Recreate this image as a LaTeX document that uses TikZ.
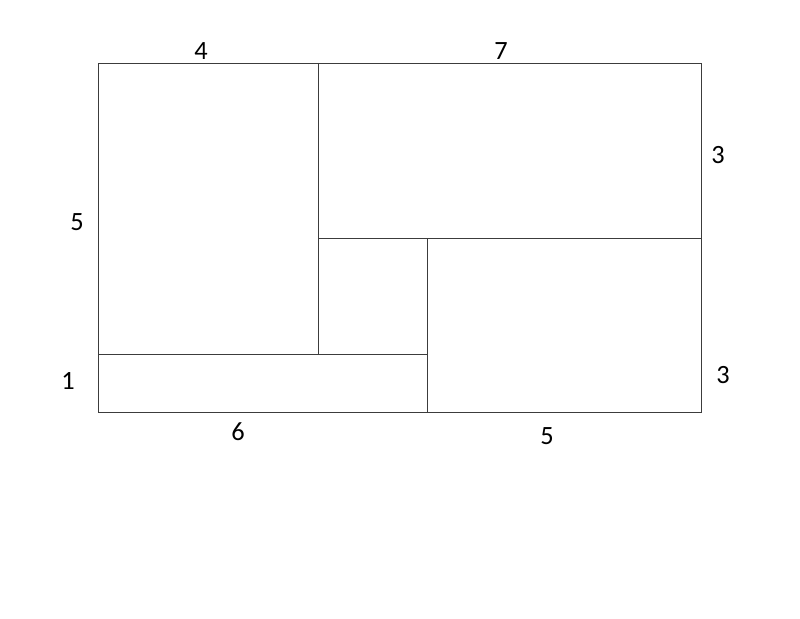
\documentclass[tikz,border=0pt]{standalone}
\usepackage{fontspec}
\setmainfont{Carlito}
\usepackage{xcolor}
\definecolor{edgegray}{RGB}{60,60,60}
\tikzset{%
    tile/.style={draw=edgegray,line width=0.45pt},
    side/.style={font=\fontsize{15}{18}\selectfont,inner sep=0pt}
}

\begin{document}
\begin{tikzpicture}[x=0.02cm,y=-0.02cm]
    \useasboundingbox (0,0) rectangle (800,618);
    \draw[tile] (98,63) rectangle (701,412);
    \draw[tile] (318,63)--(318,354);
    \draw[tile] (318,238)--(701,238);
    \draw[tile] (427,238)--(427,412);
    \draw[tile] (98,354)--(427,354);
    % side lengths
    \node[side] (top4) at (201,51) {4};
    \node[side] (top7) at (501,51) {7};
    \node[side] (right3a) at (718,155) {3};
    \node[side] (left5) at (77,222) {5};
    \node[side] (left1) at (68,381) {1};
    \node[side] (right3b) at (723,375) {3};
    \node[side] (bot6) at (238,432) {6};
    \node[side] (bot5) at (547,436) {5};
  \end{tikzpicture}
\end{document}
